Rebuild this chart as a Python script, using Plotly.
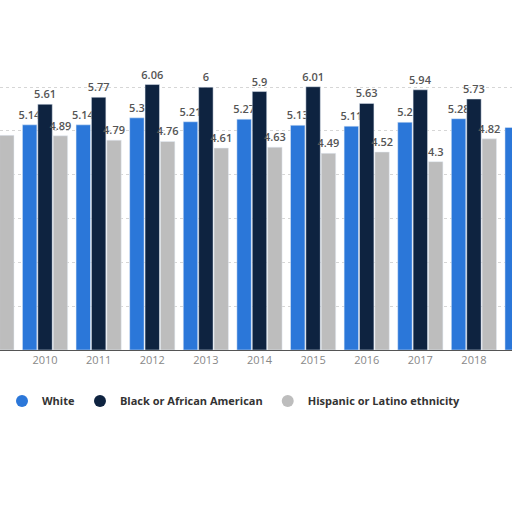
import plotly.graph_objects as go

years = ["2009", "2010", "2011", "2012", "2013", "2014", "2015", "2016", "2017", "2018", "2019"]
white = [5.2, 5.14, 5.14, 5.3, 5.21, 5.27, 5.13, 5.11, 5.2, 5.28, 5.08]
black = [5.7, 5.61, 5.77, 6.06, 6.0, 5.9, 6.01, 5.63, 5.94, 5.73, 5.6]
hispanic = [4.9, 4.89, 4.79, 4.76, 4.61, 4.63, 4.49, 4.52, 4.3, 4.82, 4.7]

series = [
    ("White", white, "#2b77d9"),
    ("Black or African American", black, "#0e2340"),
    ("Hispanic or Latino ethnicity", hispanic, "#bdbdbd"),
]

fig = go.Figure()
for name, vals, col in series:
    labels = ["" if y == "2009" else f"{v:g}" for y, v in zip(years, vals)]
    fig.add_trace(go.Bar(
        x=years, y=vals, name=name, marker_color=col, showlegend=False,
        text=labels, textposition="outside",
        textfont=dict(family="Open Sans", size=11, color="#555555", weight=600),
        cliponaxis=False,
    ))
# legend entries with round markers
for name, vals, col in series:
    fig.add_trace(go.Scatter(
        x=[None], y=[None], mode="markers", name=name,
        marker=dict(symbol="circle", size=12, color=col),
    ))

fig.update_layout(
    width=512, height=512,
    margin=dict(l=0, r=0, t=0, b=162),
    paper_bgcolor="white", plot_bgcolor="white",
    barmode="group", bargap=0.14, bargroupgap=0.06,
    uniformtext=dict(minsize=11, mode="show"),
    font=dict(family="Open Sans", color="#555555"),
    xaxis=dict(
        type="category", range=[0.16, 9.71], showgrid=False,
        showline=True, linecolor="#555555", linewidth=1,
        ticks="", tickfont=dict(size=11, color="#888888"),
    ),
    yaxis=dict(
        range=[0, 7.99], tickvals=[1, 2, 3, 4, 5, 6], showticklabels=False,
        showgrid=True, gridcolor="#d6d6d6", griddash="dot", zeroline=False,
    ),
    legend=dict(
        orientation="h", x=0.457, xanchor="center", y=-0.146, yanchor="middle",
        font=dict(size=11, color="#333333", family="Open Sans", weight=700),
        itemwidth=30, traceorder="normal",
    ),
    showlegend=True,
)

fig.write_html("out.html", config={"displayModeBar": False},
               post_script="document.body.style.margin='0';")
